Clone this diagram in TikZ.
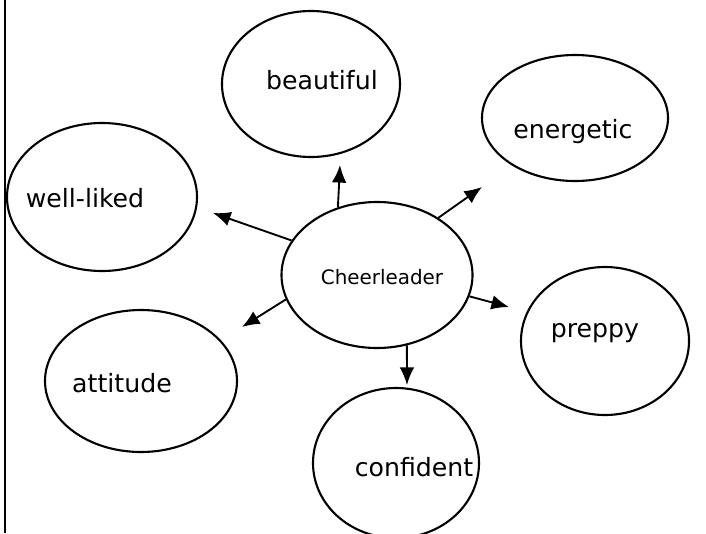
\documentclass[tikz,border=0pt]{standalone}
\usepackage{fontspec}
\setmainfont{DejaVu Sans}
\usetikzlibrary{arrows.meta,shapes.geometric}
\tikzset{%
	bubble/.style  = {draw, ellipse, line width=1.8pt, inner sep=0pt}, % Ellipse
	word/.style    = {inner sep=0pt, font=\fontsize{21.5}{25}\selectfont}, % Label
	hub/.style     = {inner sep=0pt, font=\fontsize{17}{20}\selectfont}, % Centre label
	arrow/.style   = {line width=1.6pt, -{Latex[length=15pt,width=12.5pt]}},
}

\begin{document}
\begin{tikzpicture}[x=0.03cm,y=-0.03cm]
	\useasboundingbox (0,0) rectangle (706,533);
	\draw[line width=2.2pt] (5,0) -- (5,533);
	
	% the ellipses
	\node [bubble,minimum width=5.73cm,minimum height=4.38cm] (c) at (377,275) {};
	\node [bubble,minimum width=5.34cm,minimum height=4.38cm] (b) at (311,84) {};
	\node [bubble,minimum width=5.58cm,minimum height=3.78cm] (e) at (575,118) {};
	\node [bubble,minimum width=5.70cm,minimum height=4.44cm] (w) at (102,197) {};
	\node [bubble,minimum width=5.76cm,minimum height=4.26cm] (a) at (141,381) {};
	\node [bubble,minimum width=5.04cm,minimum height=4.44cm] (p) at (605,341) {};
	\node [bubble,minimum width=4.98cm,minimum height=4.50cm] (f) at (396,463) {};
	
	% the texts
	\node [hub] (ct) at (382,277) {Cheerleader};
	\node [word] (bt) at (322,80) {beautiful};
	\node [word] (et) at (573,132) {energetic};
	\node [word] (wt) at (85,198) {well-liked};
	\node [word] (at) at (122,383) {attitude};
	\node [word] (pt) at (595,333) {preppy};
	\node [word] (ft) at (414,467) {confident};
	
	% arrow tips
	\coordinate (tb) at (340,165);
	\coordinate (te) at (482,187);
	\coordinate (tw) at (213,213);
	\coordinate (ta) at (242,327);
	\coordinate (tp) at (509,307);
	\coordinate (tf) at (407,385);
	
	\draw[arrow] (c.120.5) -- (tb);
	\draw[arrow] (c.43) -- (te);
	\draw[arrow] (c.158.8) -- (tw);
	\draw[arrow] (c.195.5) -- (ta);
	\draw[arrow] (c.347.6) -- (tp);
	\draw[arrow] (c.293.9) -- (tf);
	
\end{tikzpicture}
\end{document}
